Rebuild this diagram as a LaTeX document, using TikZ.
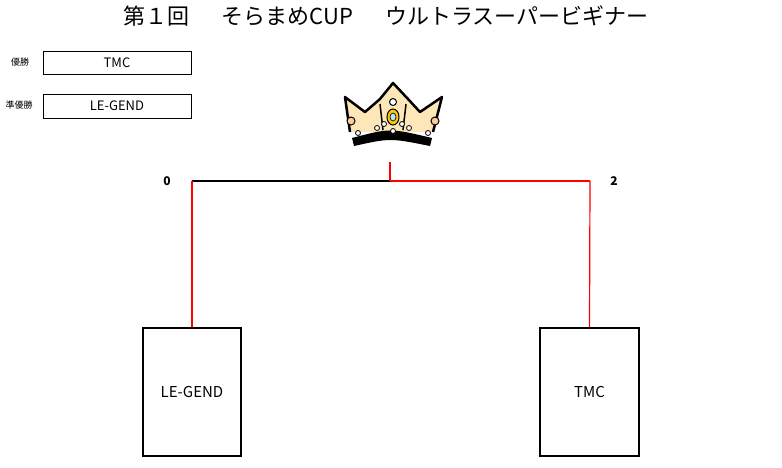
\documentclass[tikz,border=0pt]{standalone}
\usepackage{fontspec}
\setmainfont{Noto Sans CJK JP}
\begin{document}
\begin{tikzpicture}[x=1pt,y=-1pt,
  box/.style={draw,line width=1pt},
  bigbox/.style={draw,line width=2pt},
  red/.style={draw=red,line width=1.2pt},
  blk/.style={draw=black,line width=1.2pt}]
\useasboundingbox (0,0) rectangle (782,467);
\node (title) at (386,16) {\fontsize{22}{24}\selectfont 第１回\hspace{10pt}　そらまめCUP\hspace{10pt}　ウルトラスーパービギナー};
\node[box,minimum width=148pt,minimum height=23pt] (w) at (117,62.5) {\fontsize{13}{14}\selectfont TMC};
\node[box,minimum width=148pt,minimum height=24pt] (r) at (117,106) {\fontsize{13}{14}\selectfont LE-GEND};
\node (wl) at (20,62) {\fontsize{9}{10}\selectfont 優勝};
\node (rl) at (19,105) {\fontsize{9}{10}\selectfont 準優勝};
\node[bigbox,minimum width=98pt,minimum height=128pt] (a) at (192,392) {\fontsize{15}{16}\selectfont LE-GEND};
\node[bigbox,minimum width=99pt,minimum height=128pt] (b) at (589.5,392) {\fontsize{15}{16}\selectfont TMC};
\coordinate (tl) at (192,181);
\coordinate (tm) at (390,181);
\coordinate (tr) at (590,181);
\coordinate (tt) at (390,162);
\draw[blk] (tl) -- (tm);
\draw[red] (tm) -- (tr);
\draw[red] (tt) -- (tm);
\draw[red] (a.north) -- (tl);
\draw[red] (b.north) -- (tr);
\node (s0) at (167,181) {\fontsize{12}{13}\selectfont\bfseries 0};
\node (s2) at (614,181) {\fontsize{12}{13}\selectfont\bfseries 2};
% crown
\fill[yellow!30!orange!25] (350,132) -- (345,97) -- (365,112) -- (380,99) -- (393,83) -- (408,99) -- (420,112) -- (442,97) -- (433,132) -- cycle;
\draw[line width=2.5pt,line join=round] (350,132) -- (345,97) -- (365,112) -- (380,99) -- (393,83) -- (408,99) -- (420,112) -- (442,97) -- (433,132);
\fill (352,138) .. controls (390,128) .. (432,138) -- (430,146) .. controls (390,138) .. (354,146) -- cycle;
\draw[line width=1.5pt] (380,104) -- (383,130);
\draw[line width=1.5pt] (406,104) -- (403,130);
\draw[fill=white,line width=1pt] (393,102) circle (3.5);
\draw[fill=yellow!60!orange,line width=1pt] (393,117) ellipse (6 and 8);
\draw[fill=cyan!30,line width=0.6pt] (393,117) ellipse (3 and 4);
\foreach \p in {(384,124),(402,124),(393,131),(358,133),(428,133),(377,128),(409,128)} \draw[fill=white,line width=0.8pt] \p circle (2.5);
\draw[fill=orange!40,line width=1pt] (351,121) circle (4);
\draw[fill=orange!40,line width=1pt] (435,121) circle (4);
\end{tikzpicture}
\end{document}
